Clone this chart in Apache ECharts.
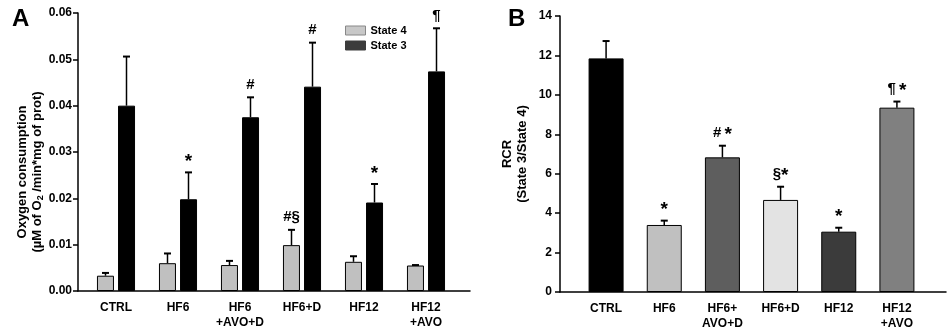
<!DOCTYPE html>
<html><head><meta charset="utf-8">
<script src="https://cdn.jsdelivr.net/npm/echarts@6/dist/echarts.min.js"></script>
<style>html,body{margin:0;padding:0;background:#fff}#c{width:948px;height:334px}</style>
</head><body><div id="c"></div>
<script>
// ---- Panel A data ----
const categoriesA = ['CTRL', 'HF6', 'HF6\n+AVO+D', 'HF6+D', 'HF12', 'HF12\n+AVO'];
const state4 = [0.0033, 0.0060, 0.0056, 0.0099, 0.0063, 0.0055];
const state4Err = [0.0006, 0.0021, 0.0009, 0.0033, 0.0012, 0.0001];
const state3 = [0.0400, 0.0198, 0.0375, 0.0441, 0.0191, 0.0474];
const state3Err = [0.0106, 0.0058, 0.0043, 0.0095, 0.0040, 0.0093];
const state4Marks = ['', '', '', '#§', '', ''];
const state3Marks = ['', '*', '#', '#', '*', '¶'];
const yMaxA = 0.06, yStepA = 0.01;
// ---- Panel B data ----
const categoriesB = ['CTRL', 'HF6', 'HF6+\nAVO+D', 'HF6+D', 'HF12', 'HF12\n+AVO'];
const rcr = [11.85, 3.40, 6.83, 4.67, 3.06, 9.35];
const rcrErr = [0.88, 0.22, 0.59, 0.67, 0.20, 0.31];
const rcrMarks = ['', '*', '# *', '§*', '*', '¶ *'];
const yMaxB = 14, yStepB = 2;

const barColorsB = ['#000000', '#c0c0c0', '#5e5e5e', '#e3e3e3', '#3b3b3b', '#808080'];
const FONT = 'Liberation Sans, Arial, sans-serif';

function errRenderer(offsetPx, marks) {
  return function (params, api) {
    const i = api.value(0), v = api.value(1), e = api.value(2);
    const base = api.coord([i, v]);
    const top = api.coord([i, v + e]);
    const x = base[0] + offsetPx;
    const cap = 3.5;
    const children = [
      { type: 'line', shape: { x1: x, y1: base[1], x2: x, y2: top[1] }, style: { stroke: '#000', lineWidth: 1.5 } },
      { type: 'line', shape: { x1: x - cap, y1: top[1], x2: x + cap, y2: top[1] }, style: { stroke: '#000', lineWidth: 2 } }
    ];
    const m = marks[params.dataIndex];
    if (m) {
      const rich = m.split('').map(ch => ch === '*' ? '{st|*}' : (ch === ' ' ? '{sp| }' : '{n|' + ch + '}')).join('');
      children.push({ type: 'text', x: x, y: top[1] - 2, style: {
        text: rich, fill: '#000', textAlign: 'center', textVerticalAlign: 'bottom',
        rich: {
          n: { font: 'bold 15px ' + FONT, fill: '#000', lineHeight: 18, verticalAlign: 'top' },
          sp: { font: 'bold 12px ' + FONT, lineHeight: 18, verticalAlign: 'top' },
          st: { font: 'bold 19px ' + FONT, fill: '#000', lineHeight: 18, verticalAlign: 'top' }
        } } });
    }
    return { type: 'group', children: children };
  };
}

const chart = echarts.init(document.getElementById('c'), null, { renderer: 'canvas' });

const axisLabelStyle = { color: '#000', fontWeight: 'bold', fontSize: 12, fontFamily: FONT };
const lineStyle = { color: '#000', width: 1.5 };

chart.setOption({
  animation: false,
  backgroundColor: '#fff',
  title: [
    { text: 'A', left: 7, top: 2, textStyle: { fontSize: 24, fontWeight: 'bold', color: '#000', fontFamily: FONT } },
    { text: 'B', left: 503, top: 2, textStyle: { fontSize: 24, fontWeight: 'bold', color: '#000', fontFamily: FONT } }
  ],
  legend: {
    orient: 'vertical', left: 340, top: 19, itemWidth: 20, itemHeight: 9, itemGap: 2,
    textStyle: { color: '#000', fontWeight: 'bold', fontSize: 11, fontFamily: FONT, lineHeight: 13 },
    data: [
      { name: 'State 4', icon: 'rect', itemStyle: { color: '#c8c8c8', borderColor: '#888', borderWidth: 1 } },
      { name: 'State 3', icon: 'rect', itemStyle: { color: '#3c3c3c', borderColor: '#3c3c3c', borderWidth: 1 } }
    ]
  },
  grid: [
    { left: 85, top: 13, width: 372, height: 278 },   // A data
    { left: 78, top: 13, width: 392, height: 278 },   // A axes
    { left: 577, top: 16, width: 349, height: 276 },  // B data
    { left: 560, top: 16, width: 386, height: 276 }   // B axes
  ],
  xAxis: [
    { gridIndex: 0, type: 'category', data: categoriesA, axisLine: { show: false }, axisTick: { show: false },
      axisLabel: Object.assign({ margin: 9, lineHeight: 15, interval: 0 }, axisLabelStyle) },
    { gridIndex: 1, type: 'value', min: 0, max: 1, axisLine: { show: true, onZero: false, lineStyle: lineStyle }, axisTick: { show: false },
      axisLabel: { show: false }, splitLine: { show: false } },
    { gridIndex: 2, type: 'category', data: categoriesB, axisLine: { show: false }, axisTick: { show: false },
      axisLabel: Object.assign({ margin: 9, lineHeight: 15, interval: 0 }, axisLabelStyle) },
    { gridIndex: 3, type: 'value', min: 0, max: 1, axisLine: { show: true, onZero: false, lineStyle: lineStyle }, axisTick: { show: false },
      axisLabel: { show: false }, splitLine: { show: false } }
  ],
  yAxis: [
    { gridIndex: 0, type: 'value', min: 0, max: yMaxA, interval: yStepA, show: false },
    { gridIndex: 1, type: 'value', min: 0, max: yMaxA, interval: yStepA,
      axisLine: { show: true, lineStyle: lineStyle }, axisTick: { show: true, length: 5, lineStyle: lineStyle }, splitLine: { show: false },
      axisLabel: Object.assign({ margin: 6, formatter: v => v.toFixed(2) }, axisLabelStyle),
      name: '{b|Oxygen consumption}\n{b|(µM of O}{s|2}{b| /min*mg of prot)}',
      nameLocation: 'middle', nameGap: 33,
      nameTextStyle: { padding: [0, 40, 0, 0], lineHeight: 15,
        rich: { b: { fontSize: 13, fontWeight: 'bold', color: '#000', fontFamily: FONT, lineHeight: 15 },
                s: { fontSize: 9, fontWeight: 'bold', color: '#000', fontFamily: FONT, verticalAlign: 'bottom', padding: [6, 0, 0, 0] } } } },
    { gridIndex: 2, type: 'value', min: 0, max: yMaxB, interval: yStepB, show: false },
    { gridIndex: 3, type: 'value', min: 0, max: yMaxB, interval: yStepB,
      axisLine: { show: true, lineStyle: lineStyle }, axisTick: { show: true, length: 5, lineStyle: lineStyle }, splitLine: { show: false },
      axisLabel: Object.assign({ margin: 8 }, axisLabelStyle),
      name: 'RCR\n(State 3/State 4)', nameLocation: 'middle', nameGap: 30,
      nameTextStyle: { fontSize: 13, fontWeight: 'bold', color: '#000', fontFamily: FONT, lineHeight: 15 } }
  ],
  series: [
    { name: 'State 4', type: 'bar', xAxisIndex: 0, yAxisIndex: 0, data: state4, barWidth: 17, barGap: '24%',
      itemStyle: { color: '#c0c0c0', borderColor: '#000', borderWidth: 1 } },
    { name: 'State 3', type: 'bar', xAxisIndex: 0, yAxisIndex: 0, data: state3, barWidth: 17, barGap: '24%',
      itemStyle: { color: '#000', borderColor: '#000', borderWidth: 1 } },
    { type: 'custom', xAxisIndex: 0, yAxisIndex: 0, z: 5, renderItem: errRenderer(-10.5, state4Marks),
      data: state4.map((v, i) => [i, v, state4Err[i]]) },
    { type: 'custom', xAxisIndex: 0, yAxisIndex: 0, z: 5, renderItem: errRenderer(10.5, state3Marks),
      data: state3.map((v, i) => [i, v, state3Err[i]]) },
    { name: 'RCR', type: 'bar', xAxisIndex: 2, yAxisIndex: 2, barWidth: 35,
      data: rcr.map((v, i) => ({ value: v, itemStyle: { color: barColorsB[i] } })),
      itemStyle: { borderColor: '#000', borderWidth: 1 } },
    { type: 'custom', xAxisIndex: 2, yAxisIndex: 2, z: 5, renderItem: errRenderer(0, rcrMarks),
      data: rcr.map((v, i) => [i, v, rcrErr[i]]) }
  ]
});
</script>
</body></html>
